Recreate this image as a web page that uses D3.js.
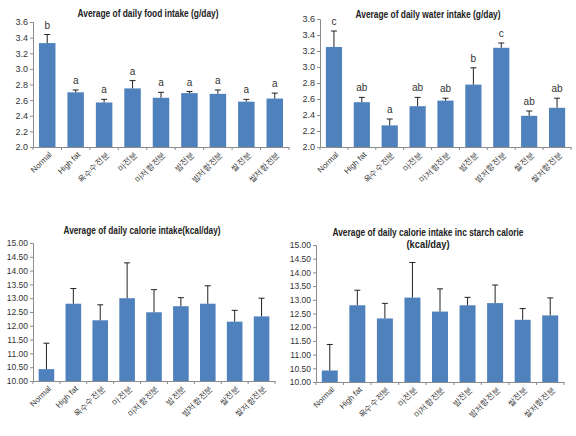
<!DOCTYPE html>
<html><head><meta charset="utf-8">
<script src="https://cdn.jsdelivr.net/npm/d3@7"></script>
<style>
html,body{margin:0;padding:0;background:#fff;}
svg text{font-family:"Liberation Sans",Arial,sans-serif;}
</style></head>
<body>
<svg id="c" width="576" height="436"></svg>
<script>
const categories = ["Normal","High fat","옥수수전분","마전분","마저항전분","밤전분","밤저항전분","쌀전분","쌀저항전분"];

const foodMean = [3.33,2.70,2.57,2.75,2.63,2.69,2.68,2.58,2.62];
const foodErr  = [0.11,0.03,0.04,0.10,0.07,0.02,0.05,0.03,0.07];
const foodLetters = ["b","a","a","a","a","a","a","a","a"];

const waterMean = [3.25,2.56,2.27,2.51,2.58,2.78,3.24,2.39,2.49];
const waterErr  = [0.20,0.06,0.08,0.11,0.03,0.21,0.06,0.06,0.12];
const waterLetters = ["c","ab","a","ab","ab","b","c","ab","ab"];

const calMean = [10.43,12.80,12.20,13.00,12.49,12.71,12.80,12.15,12.34];
const calErr  = [0.94,0.55,0.56,1.28,0.82,0.31,0.65,0.41,0.66];

const calStMean = [10.42,12.80,12.32,13.08,12.57,12.80,12.88,12.27,12.43];
const calStErr  = [0.95,0.55,0.55,1.28,0.83,0.29,0.66,0.41,0.64];

const foodTicks = [2.0,2.2,2.4,2.6,2.8,3.0,3.2,3.4,3.6];
const calTicks = [10,10.5,11,11.5,12,12.5,13,13.5,14,14.5,15];

const svg = d3.select("#c");
const BAR = "#4F81BD", AX = "#8c8c8c";

function panel(o){
  const g = svg.append("g");
  const x = d3.scaleBand().domain(categories).range([o.x0,o.x1]).paddingInner(0.42).paddingOuter(0.21);
  const y = d3.scaleLinear().domain([o.ticks[0],o.ticks[o.ticks.length-1]]).range([o.yb,o.yt]);
  // titles
  o.title.forEach((t,i)=>{
    g.append("text").attr("x",o.tx).attr("y",o.ty+i*12).attr("text-anchor","middle")
      .attr("font-size",o.tfs).attr("font-weight","bold").attr("fill","#222")
      .attr("textLength",o.tlen[i]).attr("lengthAdjust","spacingAndGlyphs").text(t);
  });
  // bars
  g.selectAll("rect.b").data(o.mean).join("rect")
    .attr("x",(d,i)=>x(categories[i])).attr("width",x.bandwidth())
    .attr("y",d=>y(d)).attr("height",d=>y(o.ticks[0])-y(d)).attr("fill",BAR);
  // error bars
  o.mean.forEach((m,i)=>{
    const cx = x(categories[i])+x.bandwidth()/2;
    const top = y(m+o.err[i]);
    g.append("line").attr("x1",cx).attr("x2",cx).attr("y1",y(m)).attr("y2",top).attr("stroke","#222").attr("stroke-width",1);
    g.append("line").attr("x1",cx-3).attr("x2",cx+3).attr("y1",top).attr("y2",top).attr("stroke","#222").attr("stroke-width",1);
    if(o.letters){
      g.append("text").attr("x",cx).attr("y",top-6).attr("text-anchor","middle")
        .attr("font-size",10).attr("fill","#333").text(o.letters[i]);
    }
  });
  // y axis
  const ya = d3.axisLeft(y).tickValues(o.ticks).tickSize(3).tickFormat(d3.format(o.fmt));
  const yg = g.append("g").attr("transform",`translate(${o.x0},0)`).call(ya);
  yg.select(".domain").attr("stroke",AX);
  yg.selectAll(".tick line").attr("stroke",AX);
  yg.selectAll(".tick text").attr("font-size",o.yfs).attr("fill","#333").attr("x",-5)
    .attr("font-family","'Liberation Sans',Arial,sans-serif");
  // x axis
  const xa = d3.axisBottom(x).tickSize(0).tickSizeOuter(0);
  const xg = g.append("g").attr("transform",`translate(0,${o.yb})`).call(xa);
  xg.select(".domain").attr("stroke",AX);
  xg.selectAll(".tick text").attr("fill","#333")
    .attr("text-anchor","end").attr("dx",0).attr("dy",0)
    .attr("transform","translate(3,6) rotate(-45)")
    .attr("font-family",(d,i)=> i<2 ? "'Liberation Sans',Arial,sans-serif" : "'Noto Sans CJK KR',sans-serif")
    .attr("font-size",(d,i)=> i<2 ? 8 : 8);
  // category separator ticks
  for(let k=0;k<=categories.length;k++){
    const xx = o.x0 + k*(o.x1-o.x0)/categories.length;
    g.append("line").attr("x1",xx).attr("x2",xx).attr("y1",o.yb).attr("y2",o.yb+3).attr("stroke",AX);
  }
}

panel({x0:33,x1:289,yt:22,yb:147,ticks:foodTicks,fmt:".1f",mean:foodMean,err:foodErr,letters:foodLetters,
  title:["Average of daily food intake (g/day)"],tlen:[141],tx:148,ty:17,tfs:10,yfs:9});
panel({x0:320,x1:571,yt:19,yb:147,ticks:foodTicks,fmt:".1f",mean:waterMean,err:waterErr,letters:waterLetters,
  title:["Average of daily water intake (g/day)"],tlen:[145],tx:428,ty:18,tfs:10,yfs:9});
panel({x0:33,x1:275,yt:243,yb:381,ticks:calTicks,fmt:".2f",mean:calMean,err:calErr,letters:null,
  title:["Average of daily calorie intake(kcal/day)"],tlen:[157],tx:142,ty:234,tfs:10,yfs:8.5});
panel({x0:316,x1:564,yt:245,yb:382,ticks:calTicks,fmt:".2f",mean:calStMean,err:calStErr,letters:null,
  title:["Average of daily calorie intake inc starch calorie","(kcal/day)"],tlen:[191,43],tx:428,ty:236,tfs:10,yfs:8.5});
</script>
</body></html>
